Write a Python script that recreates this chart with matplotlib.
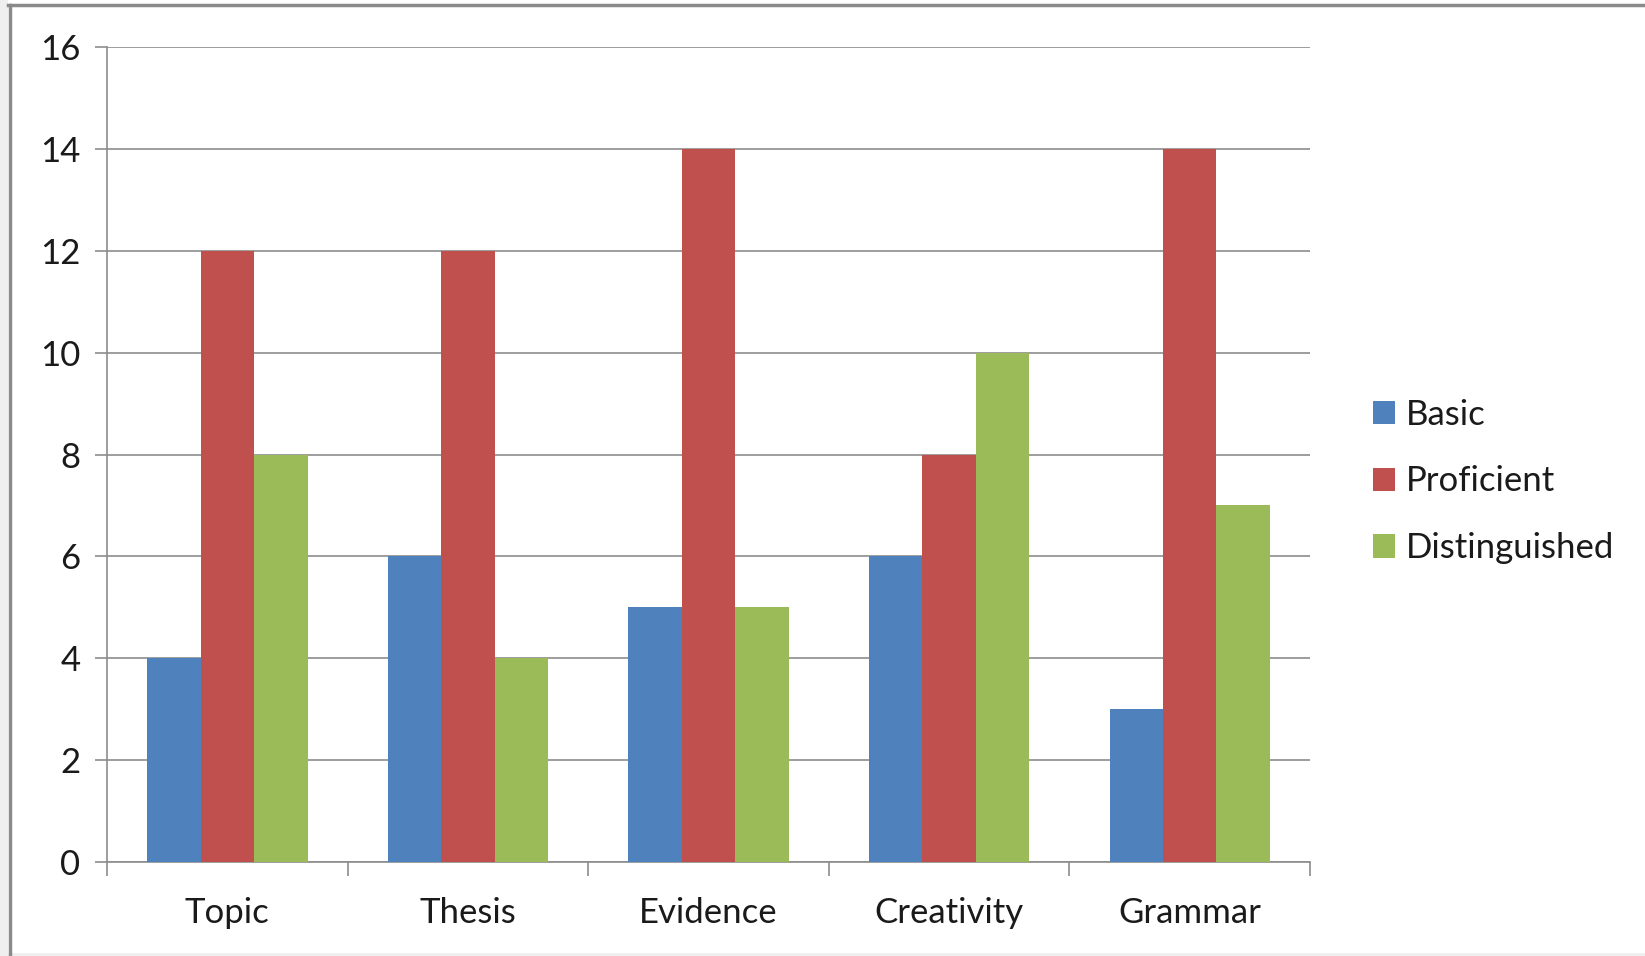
import matplotlib
matplotlib.use("Agg")
import matplotlib.pyplot as plt
from matplotlib.patches import Rectangle
from matplotlib.lines import Line2D
import numpy as np

categories = ["Topic", "Thesis", "Evidence", "Creativity", "Grammar"]
basic = [4, 6, 5, 6, 3]
proficient = [12, 12, 14, 8, 14]
distinguished = [8, 4, 5, 10, 7]
series_names = ["Basic", "Proficient", "Distinguished"]
colors = ["#4F81BD", "#C0504D", "#9BBB59"]

plt.rcParams['font.family'] = ['Lato', 'DejaVu Sans']

W, H = 1645, 956
fig = plt.figure(figsize=(W / 100, H / 100), dpi=100)
fig.patch.set_facecolor("white")

# screenshot frame
fig.patches.append(Rectangle((0, 0), 8 / W, 1, transform=fig.transFigure,
                             facecolor="#efefef", edgecolor="none", zorder=0))
fig.patches.append(Rectangle((0, 0), 1, 3 / H, transform=fig.transFigure,
                             facecolor="#efefef", edgecolor="none", zorder=0))
fig.lines.append(Line2D([9.5 / W, 9.5 / W], [0, 1 - 4.5 / H], transform=fig.transFigure,
                        color="#8a8a8a", lw=2.5))
fig.lines.append(Line2D([8 / W, 1], [1 - 4.5 / H, 1 - 4.5 / H], transform=fig.transFigure,
                        color="#8a8a8a", lw=2.5))

ax = fig.add_axes([107 / W, 1 - 862 / H, (1310 - 107) / W, (862 - 47) / H])

x = np.arange(len(categories))
w = 1 / 4.5
for i, (vals, name, c) in enumerate(zip([basic, proficient, distinguished], series_names, colors)):
    ax.bar(x + (i - 1) * w, vals, width=w, color=c, label=name, zorder=3)

ax.set_xlim(-0.5, len(categories) - 0.5)
ax.set_ylim(0, 16)
ax.set_yticks(range(0, 17, 2))
ax.grid(axis="y", color="#8c8c8c", lw=1.2, zorder=0)
ax.set_axisbelow(True)

for s in ["top", "right"]:
    ax.spines[s].set_visible(False)
for s in ["left", "bottom"]:
    ax.spines[s].set_color("#8c8c8c")
    ax.spines[s].set_linewidth(1.2)

ax.set_xticks(np.arange(-0.5, len(categories), 1))
ax.set_xticklabels([])
ax.set_xticks(x, minor=True)
ax.set_xticklabels(categories, minor=True)
ax.tick_params(axis="x", which="major", length=10, width=1.2, color="#8c8c8c", direction="out")
ax.tick_params(axis="x", which="minor", length=0, pad=25, labelsize=25, labelcolor="#1a1a1a")
ax.tick_params(axis="y", length=9, width=1.2, color="#8c8c8c", pad=10, labelsize=25, labelcolor="#1a1a1a")

leg = ax.legend(loc="center left", bbox_to_anchor=(1.026, 0.467), frameon=False,
                fontsize=25, handlelength=0.65, handleheight=0.65, handletextpad=0.3,
                labelspacing=1.0, labelcolor="#1a1a1a")

fig.savefig("out.png", dpi=100, facecolor="white")
